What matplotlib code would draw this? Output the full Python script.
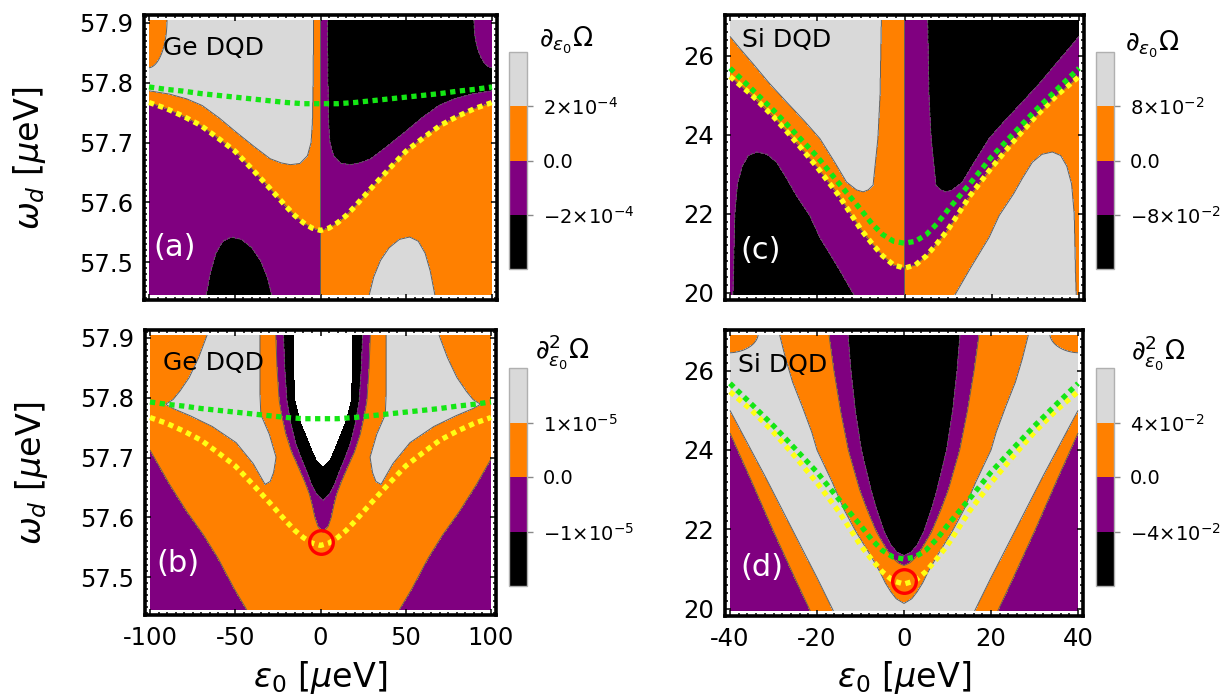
import numpy as np
import matplotlib.pyplot as plt
from matplotlib.cm import ScalarMappable
from matplotlib.colors import BoundaryNorm, ListedColormap
from matplotlib.ticker import AutoMinorLocator, FormatStrFormatter, MultipleLocator

plt.rcParams['font.family'] = ['DejaVu Sans']
plt.rcParams['mathtext.fontset'] = 'dejavusans'
plt.rcParams['axes.unicode_minus'] = False

W, H = 1220, 700

# colours of the four contour bands, lowest level first
map_colors = ['#000000', '#800080', '#ff8000', '#d9d9d9']

# resonance line (yellow) and second line (green)
ge_eps = [-100, -90, -80, -70, -60, -50, -40, -30, -20, -15, -10, -5, 0,
          5, 10, 15, 20, 30, 40, 50, 60, 70, 80, 90, 100]
ge_yellow = [57.767, 57.757, 57.744, 57.729, 57.708, 57.686, 57.656, 57.625, 57.593,
             57.578, 57.566, 57.557, 57.553, 57.557, 57.566, 57.578,
             57.593, 57.625, 57.656, 57.686, 57.708, 57.729, 57.744, 57.757, 57.767]
ge_green = [57.793, 57.789, 57.786, 57.782, 57.779, 57.776, 57.773, 57.770, 57.767,
            57.766, 57.765, 57.765, 57.765, 57.765, 57.765, 57.766,
            57.767, 57.770, 57.773, 57.776, 57.779, 57.782, 57.786, 57.789, 57.793]

si_eps = [-40, -35, -30, -25, -20, -15, -10, -7.5, -5, -2.5, 0,
          2.5, 5, 7.5, 10, 15, 20, 25, 30, 35, 40]
si_yellow = [25.47, 25.00, 24.45, 23.83, 23.17, 22.45, 21.60, 21.25, 20.93, 20.70, 20.62,
             20.70, 20.93, 21.25, 21.60, 22.45, 23.17, 23.83, 24.45, 25.00, 25.47]
si_green = [25.68, 25.15, 24.61, 24.03, 23.44, 22.76, 22.10, 21.75, 21.47, 21.30, 21.25,
            21.30, 21.47, 21.75, 22.10, 22.76, 23.44, 24.03, 24.61, 25.15, 25.68]

# double sweet spots (red circles)
ge_spot_eps, ge_spot_w = [0.5], [57.558]
si_spot_eps, si_spot_w = [0.0], [20.70]

# contour thresholds and colourbar labels
ge_t1, ge_t2 = 2e-4, 1e-5
si_t1, si_t2 = 8e-2, 4e-2
lab_a = [r'$-2{\times}10^{-4}$', '0.0', r'$2{\times}10^{-4}$']
lab_b = [r'$-1{\times}10^{-5}$', '0.0', r'$1{\times}10^{-5}$']
lab_c = [r'$-8{\times}10^{-2}$', '0.0', r'$8{\times}10^{-2}$']
lab_d = [r'$-4{\times}10^{-2}$', '0.0', r'$4{\times}10^{-2}$']

# ---- band edges (|eps| in ueV, omega in ueV) ----
# (a) edge of the large |d Omega| region above the resonance, and the blob below it
ge_a_up_e = [4.0, 4.3, 4.7, 5.5, 7.6, 12, 17.6, 23, 29.4, 39, 49, 59, 69, 78, 88, 101]
ge_a_up_w = [57.905, 57.80, 57.734, 57.70, 57.678, 57.665, 57.663, 57.666, 57.673,
             57.694, 57.717, 57.741, 57.762, 57.773, 57.781, 57.787]
ge_a_corner = (100.5, 57.905, 11.0, 0.08)
ge_a_low_e = [27.0, 28.4, 31, 35, 40, 46, 52, 57, 61, 64, 66.7, 68]
ge_a_low_w = [57.40, 57.445, 57.475, 57.503, 57.524, 57.538, 57.542, 57.535, 57.515, 57.485, 57.445, 57.40]

# (c)
si_c_up_e = [5.3, 5.6, 6.1, 7.2, 8.3, 9.5, 11, 13.3, 16, 19.4, 23, 27, 31, 34.7, 37.5, 40.5]
si_c_up_w = [26.95, 25.0, 23.9, 22.72, 22.6, 22.55, 22.6, 22.8, 23.3, 23.9, 24.35,
             24.82, 25.3, 25.79, 26.15, 26.55]
si_c_low_e = [11.0, 11.6, 15, 19.4, 21.7, 25, 27, 29.3, 31.5, 33.9, 35.8, 37.2, 38.3, 38.9, 39.2, 39.4]
si_c_low_w = [19.8, 19.95, 20.6, 21.4, 21.95, 22.5, 22.89, 23.3, 23.5, 23.56, 23.47,
              23.2, 22.75, 22.0, 20.5, 19.8]

# (b) lobes, nested U regions (half widths) and purple corners
ge_b_center = 1.5
ge_b_lobe_e = [27.0, 27.6, 29, 31, 34, 37, 41, 51, 65, 78, 88, 93]
ge_b_lobe_w = [57.74, 57.70, 57.675, 57.66, 57.655, 57.67, 57.69, 57.725, 57.752, 57.77, 57.782, 57.79]
ge_b_out_w = [57.788, 57.797, 57.811, 57.834, 57.867, 57.905]
ge_b_out_e = [93, 88, 84, 78.5, 73, 68]
ge_b_in_w = [57.70, 57.739, 57.772, 57.806, 57.905]
ge_b_in_e = [27.5, 31.5, 36.5, 37, 37]
ge_b_pu_w = [57.575, 57.585, 57.60, 57.62, 57.639, 57.66, 57.683, 57.71, 57.739, 57.77, 57.795, 57.85, 57.905]
ge_b_pu_e = [0, 3.0, 4.8, 6.3, 8.0, 10.8, 14.3, 18.5, 21.8, 24.2, 25.7, 27.0, 27.7]
ge_b_bu_w = [57.628, 57.64, 57.655, 57.673, 57.70, 57.723, 57.76, 57.795, 57.85, 57.905]
ge_b_bu_e = [0, 4.0, 6.8, 9.1, 13.0, 16.0, 19.2, 21.2, 22.5, 23.2]
ge_b_wu_w = [57.683, 57.695, 57.71, 57.73, 57.76, 57.795, 57.85, 57.905]
ge_b_wu_e = [0, 4.0, 6.4, 9.2, 13.5, 16.6, 17.3, 17.5]
ge_b_pc_e = [44.7, 52, 61.7, 70, 80, 90, 100, 103]
ge_b_pc_w = [57.445, 57.48, 57.532, 57.57, 57.61, 57.655, 57.705, 57.72]

# (d)
si_d_go_e = [0, 15, 16.5, 20, 25, 32, 40.5]
si_d_go_w = [19.0, 19.65, 20.0, 20.78, 21.85, 23.35, 25.1]
si_d_gi_w = [20.13, 20.25, 20.42, 20.65, 20.92, 21.4, 21.93, 22.5, 23.19, 24.0, 24.45, 25.1, 25.71, 26.3, 26.95]
si_d_gi_e = [0, 1.8, 3.0, 4.3, 5.5, 8.0, 11.0, 13.8, 16.5, 20.0, 21.2, 23.4, 25.6, 27.2, 28.7]
si_d_corner = (40.5, 26.95, 7.0, 0.5)
si_d_pu_w = [21.09, 21.15, 21.25, 21.34, 21.5, 21.93, 22.5, 23.0, 24.0, 25.0, 26.0, 26.95]
si_d_pu_e = [0, 1.3, 2.3, 3.0, 4.0, 6.3, 8.5, 10.2, 12.8, 14.6, 16.1, 17.3]
si_d_bu_w = [21.34, 21.42, 21.6, 21.93, 22.5, 23.0, 24.0, 25.0, 26.0, 26.95]
si_d_bu_e = [0, 1.6, 3.0, 4.5, 6.3, 7.6, 9.8, 11.2, 12.2, 12.9]
si_d_pc_e = [20.0, 21.8, 25, 30, 35, 40.5]
si_d_pc_w = [19.6, 20.0, 20.75, 21.95, 23.2, 24.55]


def step(s):
    return 0.5 * (1.0 + np.tanh(s))


def first_map(xg, yg, eps, yellow, up_e, up_w, low_e, low_w, T, sy, corner=None):
    X, Y = np.meshgrid(xg, yg)
    e = np.abs(X)
    eps = np.asarray(eps, float)
    yel = np.asarray(yellow, float)
    keep = eps >= 0
    d = Y - np.interp(e, eps[keep], yel[keep])
    up = step((Y - np.interp(e, up_e, up_w, left=1e3)) / sy)
    if corner is not None:
        ce, cw, rx, ry = corner
        up = up * step(4 * (((e - ce) / rx) ** 2 + ((Y - cw) / ry) ** 2 - 1))
    low = step((np.interp(e, low_e, low_w, left=-1e3, right=-1e3) - Y) / sy)
    F = T * np.tanh(-X / 0.12) * np.tanh(d / sy) * (0.5 + np.where(d > 0, up, low))
    return X, Y, F


def inside(e, Y, ws, es, se):
    return step((np.interp(Y, ws, es, left=-10.0) - e) / se)


fig = plt.figure(figsize=(W / 100, H / 100), dpi=100)


def panel(x0, x1, y0, y1, xr, yr, m=5):
    ax = fig.add_axes([(x0 - m) / W, 1 - (y1 + m) / H, (x1 - x0 + 2 * m) / W, (y1 - y0 + 2 * m) / H])
    px = (xr[1] - xr[0]) / (x1 - x0)
    py = (yr[1] - yr[0]) / (y1 - y0)
    ax.set_xlim(xr[0] - m * px, xr[1] + m * px)
    ax.set_ylim(yr[0] - m * py, yr[1] + m * py)
    for s in ax.spines.values():
        s.set_linewidth(2.6)
    ax.tick_params(which='both', direction='in', top=True, right=True, width=1.1, labelsize=17.5)
    ax.tick_params(which='major', length=4.5, pad=8)
    ax.tick_params(which='minor', length=2.5)
    return ax


def draw(ax, X, Y, F, levels):
    ax.contourf(X, Y, F, levels=levels, colors=map_colors)
    ax.contour(X, Y, F, levels=levels[1:-1], colors='#5f5f5f', linewidths=0.7)


def curves(ax, eps, yellow, green, spot_e, spot_w):
    dots = dict(lw=3.8, ls=(0, (1.0, 0.85)), dash_capstyle='butt', zorder=5)
    ax.plot(eps, yellow, color='#ffff14', **dots)
    ax.plot(eps, green, color='#14e614', **dots)
    if spot_e is not None:
        ax.plot(spot_e, spot_w, 'o', ms=17, mfc='none', mec='#ff0000', mew=2.4, zorder=6)


def add_cbar(x0, y0, x1, y1, T, labels):
    cax = fig.add_axes([x0 / W, 1 - y1 / H, (x1 - x0) / W, (y1 - y0) / H])
    sm = ScalarMappable(norm=BoundaryNorm([-2 * T, -T, 0, T, 2 * T], 4), cmap=ListedColormap(map_colors))
    cb = fig.colorbar(sm, cax=cax, ticks=[-T, 0, T])
    cb.ax.set_yticklabels(labels)
    cb.outline.set_edgecolor('#b0b0b0')
    cb.outline.set_linewidth(1.0)
    cb.ax.tick_params(length=4.5, width=1.0, color='#8a8a8a', labelsize=14, pad=7)
    cb.ax.minorticks_off()


ge_xr, ge_yr = (-100, 100), (57.445, 57.905)
si_xr, si_yr = (-40, 40), (19.94, 26.9)
ge_xg = np.linspace(*ge_xr, 1201)
ge_yg = np.linspace(*ge_yr, 701)
si_xg = np.linspace(*si_xr, 1201)
si_yg = np.linspace(*si_yr, 701)

# ---- (a) Ge, first derivative ----
ax_a = panel(149, 492, 20, 295, ge_xr, ge_yr)
X, Y, F = first_map(ge_xg, ge_yg, ge_eps, ge_yellow, ge_a_up_e, ge_a_up_w,
                    ge_a_low_e, ge_a_low_w, ge_t1, 0.0015, ge_a_corner)
draw(ax_a, X, Y, F, [-10 * ge_t1, -ge_t1, 0, ge_t1, 10 * ge_t1])
curves(ax_a, ge_eps, ge_yellow, ge_green, None, None)

# ---- (b) Ge, second derivative ----
ax_b = panel(150, 491, 335, 610, ge_xr, ge_yr)
X, Y = np.meshgrid(ge_xg, ge_yg)
e = np.abs(X - ge_b_center)
lobe = (step((Y - np.interp(e, ge_b_lobe_e, ge_b_lobe_w, left=1e3, right=1e3)) / 0.0015)
        * step((np.interp(Y, ge_b_out_w, ge_b_out_e, left=95) - e) / 0.3)
        * step((e - np.interp(Y, ge_b_in_w, ge_b_in_e, left=26)) / 0.3))
corner = step((np.interp(e, ge_b_pc_e, ge_b_pc_w, left=57.3) - Y) / 0.0015)
F = ge_t2 * (0.5 + lobe - corner
             - inside(e, Y, ge_b_pu_w, ge_b_pu_e, 0.3)
             - inside(e, Y, ge_b_bu_w, ge_b_bu_e, 0.3)
             - inside(e, Y, ge_b_wu_w, ge_b_wu_e, 0.3))
draw(ax_b, X, Y, F, [-2 * ge_t2, -ge_t2, 0, ge_t2, 10 * ge_t2])
curves(ax_b, ge_eps, ge_yellow, ge_green, ge_spot_eps, ge_spot_w)

# ---- (c) Si, first derivative ----
ax_c = panel(730, 1079, 20, 295, si_xr, si_yr)
X, Y, F = first_map(si_xg, si_yg, si_eps, si_yellow, si_c_up_e, si_c_up_w,
                    si_c_low_e, si_c_low_w, si_t1, 0.025)
draw(ax_c, X, Y, F, [-10 * si_t1, -si_t1, 0, si_t1, 10 * si_t1])
curves(ax_c, si_eps, si_yellow, si_green, None, None)

# ---- (d) Si, second derivative ----
ax_d = panel(730, 1078, 335, 611, si_xr, si_yr)
X, Y = np.meshgrid(si_xg, si_yg)
e = np.abs(X)
ce, cw, rx, ry = si_d_corner
gray = (step((Y - np.interp(e, si_d_go_e, si_d_go_w)) / 0.025)
        * step((e - np.interp(Y, si_d_gi_w, si_d_gi_e, left=-10.0)) / 0.12)
        * step(4 * (((e - ce) / rx) ** 2 + ((Y - cw) / ry) ** 2 - 1)))
corner = step((np.interp(e, si_d_pc_e, si_d_pc_w, left=19.0) - Y) / 0.025)
F = si_t2 * (0.5 + gray - corner
             - inside(e, Y, si_d_pu_w, si_d_pu_e, 0.12)
             - inside(e, Y, si_d_bu_w, si_d_bu_e, 0.12))
draw(ax_d, X, Y, F, [-10 * si_t2, -si_t2, 0, si_t2, 10 * si_t2])
curves(ax_d, si_eps, si_yellow, si_green, si_spot_eps, si_spot_w)

# ticks
for ax in (ax_a, ax_b):
    ax.xaxis.set_major_locator(MultipleLocator(50))
    ax.yaxis.set_major_locator(MultipleLocator(0.1))
    ax.yaxis.set_major_formatter(FormatStrFormatter('%.1f'))
for ax in (ax_c, ax_d):
    ax.xaxis.set_major_locator(MultipleLocator(20))
    ax.yaxis.set_major_locator(MultipleLocator(2))
for ax in (ax_a, ax_b, ax_c, ax_d):
    ax.xaxis.set_minor_locator(AutoMinorLocator(10))
    ax.yaxis.set_minor_locator(AutoMinorLocator(10))
for ax in (ax_a, ax_c):
    ax.tick_params(labelbottom=False)

# colourbars
add_cbar(509, 52, 527, 269, ge_t1, lab_a)
add_cbar(509, 368, 527, 586, ge_t2, lab_b)
add_cbar(1096, 52, 1114, 269, si_t1, lab_c)
add_cbar(1096, 368, 1114, 586, si_t2, lab_d)


def ftext(x, y, s, **kw):
    fig.text(x / W, 1 - y / H, s, **kw)


d1 = r'$\partial_{\epsilon_0}\mathit{\Omega}$'
d2 = r'$\partial^2_{\epsilon_0}\mathit{\Omega}$'
ftext(566, 40, d1, ha='center', va='center', fontsize=19)
ftext(562, 352, d2, ha='center', va='center', fontsize=19)
ftext(1152, 44, d1, ha='center', va='center', fontsize=19)
ftext(1158, 353, d2, ha='center', va='center', fontsize=19)

for (x, y, s) in [(163, 48, 'Ge DQD'), (163, 363, 'Ge DQD'), (742, 40, 'Si DQD'), (738, 365, 'Si DQD')]:
    ftext(x, y, s, ha='left', va='center', fontsize=18, zorder=10)
for (x, y, s) in [(153, 248, '(a)'), (156, 563, '(b)'), (740, 250, '(c)'), (740, 568, '(d)')]:
    ftext(x, y, s, ha='left', va='center', fontsize=22, color='white', zorder=10)

ylab = r'$\omega_d$ [$\mu$eV]'
xlab = r'$\epsilon_0$ [$\mu$eV]'
ftext(30, 158, ylab, ha='center', va='center', rotation=90, fontsize=24)
ftext(32, 473, ylab, ha='center', va='center', rotation=90, fontsize=24)
ftext(320, 678, xlab, ha='center', va='center', fontsize=24)
ftext(904, 678, xlab, ha='center', va='center', fontsize=24)

fig.savefig('out.png', dpi=100)
